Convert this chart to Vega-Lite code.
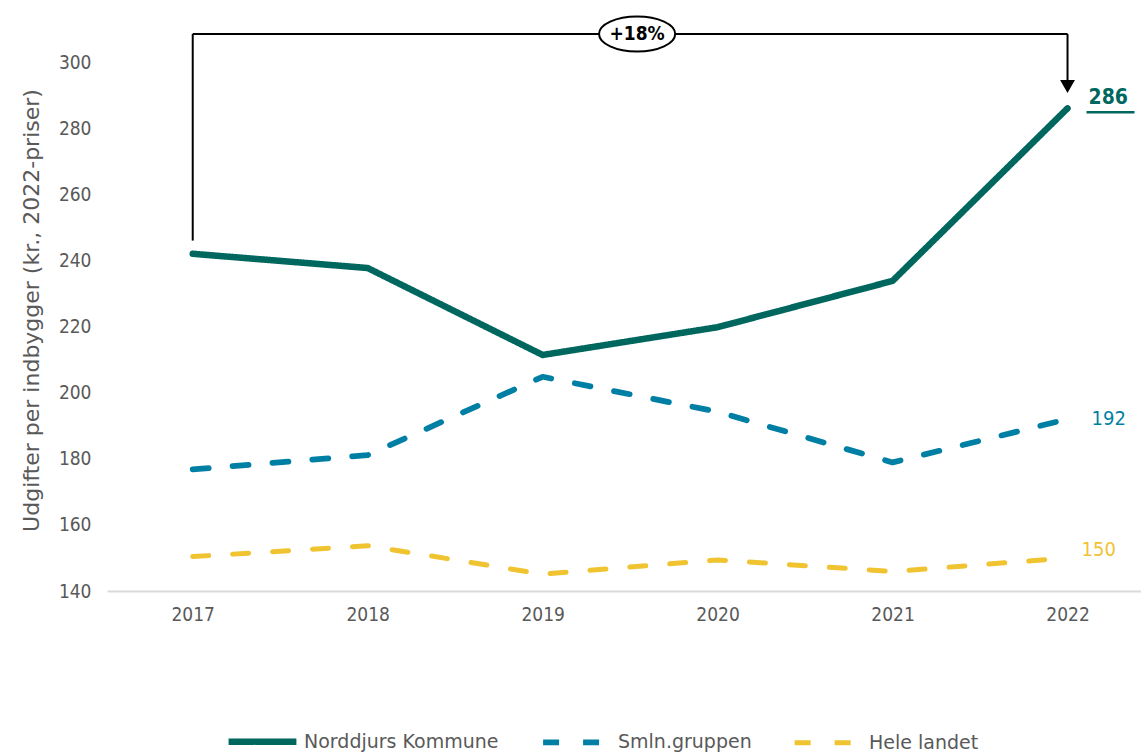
{
  "$schema": "https://vega.github.io/schema/vega-lite/v6.json",
  "autosize": {"type": "none"},
  "padding": {"left": 107, "top": 29, "right": 0, "bottom": 164},
  "width": 1034,
  "height": 562,
  "background": "white",
  "config": {
    "view": {"stroke": null},
    "font": "DejaVu Sans Condensed",
    "text": {"font": "DejaVu Sans Condensed"}
  },
  "datasets": {
    "series": [
      {"year": 2017, "series": "Norddjurs Kommune", "value": 242.0},
      {"year": 2018, "series": "Norddjurs Kommune", "value": 237.7},
      {"year": 2019, "series": "Norddjurs Kommune", "value": 211.4},
      {"year": 2020, "series": "Norddjurs Kommune", "value": 219.8},
      {"year": 2021, "series": "Norddjurs Kommune", "value": 233.8},
      {"year": 2022, "series": "Norddjurs Kommune", "value": 286.0},
      {"year": 2017, "series": "Smln.gruppen", "value": 176.8},
      {"year": 2018, "series": "Smln.gruppen", "value": 181.1},
      {"year": 2019, "series": "Smln.gruppen", "value": 204.8},
      {"year": 2020, "series": "Smln.gruppen", "value": 194.2},
      {"year": 2021, "series": "Smln.gruppen", "value": 178.9},
      {"year": 2022, "series": "Smln.gruppen", "value": 192.0},
      {"year": 2017, "series": "Hele landet", "value": 150.4},
      {"year": 2018, "series": "Hele landet", "value": 153.7},
      {"year": 2019, "series": "Hele landet", "value": 145.1},
      {"year": 2020, "series": "Hele landet", "value": 149.4},
      {"year": 2021, "series": "Hele landet", "value": 145.9},
      {"year": 2022, "series": "Hele landet", "value": 150.0}
    ],
    "bracket": [
      {"year": 2017, "value": 246, "year2": 2017, "value2": 308.5},
      {"year": 2017, "value": 308.5, "year2": 2022, "value2": 308.5},
      {"year": 2022, "value": 308.5, "year2": 2022, "value2": 294}
    ],
    "arrow": [{"year": 2022, "value": 292.6}],
    "badge": [{"year": 2019.54, "value": 308.5, "label": "+18%"}]
  },
  "encoding": {
    "x": {
      "field": "year", "type": "quantitative",
      "scale": {"domain": [2016.51, 2022.42], "nice": false, "zero": false},
      "axis": {
        "values": [2017, 2018, 2019, 2020, 2021, 2022], "format": "d", "title": null,
        "grid": false, "ticks": false, "domainColor": "#D9D9D9", "domainWidth": 2,
        "labelFontSize": 19, "labelColor": "#595959", "labelPadding": 14, "labelFont": "DejaVu Sans Condensed"
      }
    },
    "y": {
      "field": "value", "type": "quantitative",
      "scale": {"domain": [140, 310], "nice": false, "zero": false},
      "axis": {
        "values": [140, 160, 180, 200, 220, 240, 260, 280, 300],
        "title": "Udgifter per indbygger (kr., 2022-priser)",
        "titleFontSize": 22, "titleFontWeight": "normal", "titleColor": "#595959", "titleFont": "DejaVu Sans",
        "titlePadding": 15,
        "grid": false, "ticks": false, "domain": false,
        "labelFontSize": 19, "labelColor": "#595959", "labelPadding": 16, "labelFont": "DejaVu Sans Condensed"
      }
    }
  },
  "layer": [
    {
      "data": {"name": "series"},
      "mark": {"type": "line", "interpolate": "linear", "strokeCap": "round", "strokeJoin": "round"},
      "encoding": {
        "color": {
          "field": "series", "type": "nominal",
          "scale": {"domain": ["Norddjurs Kommune", "Smln.gruppen", "Hele landet"], "range": ["#00675F", "#007FA4", "#F0C330"]},
          "legend": {
            "title": null, "orient": "none", "direction": "horizontal",
            "legendX": 118, "legendY": 675,
            "symbolType": "stroke", "symbolSize": 4600, "symbolStrokeWidth": 6,
            "labelFontSize": 19, "labelColor": "#595959", "labelFont": "DejaVu Sans", "labelLimit": 400,
            "labelOffset": 4, "columnPadding": 32
          }
        },
        "strokeDash": {
          "field": "series", "type": "nominal",
          "scale": {"domain": ["Norddjurs Kommune", "Smln.gruppen", "Hele landet"], "range": [[1, 0], [16, 24], [16, 24]]},
          "legend": {
            "title": null, "orient": "none", "direction": "horizontal",
            "legendX": 118, "legendY": 675,
            "symbolType": "stroke", "symbolSize": 4600, "symbolStrokeWidth": 6,
            "labelFontSize": 19, "labelColor": "#595959", "labelFont": "DejaVu Sans", "labelLimit": 400,
            "labelOffset": 4, "columnPadding": 32
          }
        },
        "strokeWidth": {
          "field": "series", "type": "nominal",
          "scale": {"domain": ["Norddjurs Kommune", "Smln.gruppen", "Hele landet"], "range": [6.5, 5, 5]},
          "legend": null
        }
      }
    },
    {
      "data": {"name": "bracket"},
      "mark": {"type": "rule", "color": "black", "strokeWidth": 2},
      "encoding": {
        "x2": {"field": "year2"},
        "y2": {"field": "value2"}
      }
    },
    {
      "data": {"name": "arrow"},
      "mark": {"type": "point", "shape": "triangle-down", "filled": true, "color": "black", "size": 220, "opacity": 1}
    },
    {
      "data": {"name": "badge"},
      "mark": {
        "type": "point",
        "shape": "M -1 0 A 1 0.46 0 1 1 1 0 A 1 0.46 0 1 1 -1 0 Z",
        "size": 5800, "filled": true, "fill": "white", "stroke": "black", "strokeWidth": 2, "opacity": 1
      }
    },
    {
      "data": {"name": "badge"},
      "mark": {"type": "text", "fontSize": 19, "fontWeight": "bold", "color": "black", "font": "DejaVu Sans Condensed"},
      "encoding": {"text": {"field": "label"}}
    },
    {
      "data": {"name": "series"},
      "transform": [{"filter": "datum.year == 2022 && datum.series == 'Norddjurs Kommune'"}],
      "mark": {"type": "text", "align": "left", "dx": 21, "dy": -10, "fontSize": 21, "fontWeight": "bold", "color": "#00675F", "font": "DejaVu Sans Condensed"},
      "encoding": {"text": {"field": "value", "format": "d"}}
    },
    {
      "data": {"name": "series"},
      "transform": [{"filter": "datum.year == 2022 && datum.series == 'Norddjurs Kommune'"}],
      "mark": {"type": "rule", "color": "#00675F", "strokeWidth": 2.5, "xOffset": 19, "x2Offset": 67, "yOffset": 4},
      "encoding": {"x2": {"field": "year"}}
    },
    {
      "data": {"name": "series"},
      "transform": [{"filter": "datum.year == 2022 && datum.series == 'Smln.gruppen'"}],
      "mark": {"type": "text", "align": "left", "dx": 24, "dy": 0, "fontSize": 20, "color": "#007FA4", "font": "DejaVu Sans Condensed"},
      "encoding": {"text": {"field": "value", "format": "d"}}
    },
    {
      "data": {"name": "series"},
      "transform": [{"filter": "datum.year == 2022 && datum.series == 'Hele landet'"}],
      "mark": {"type": "text", "align": "left", "dx": 14, "dy": -8, "fontSize": 20, "color": "#F0C330", "font": "DejaVu Sans Condensed"},
      "encoding": {"text": {"field": "value", "format": "d"}}
    }
  ]
}
